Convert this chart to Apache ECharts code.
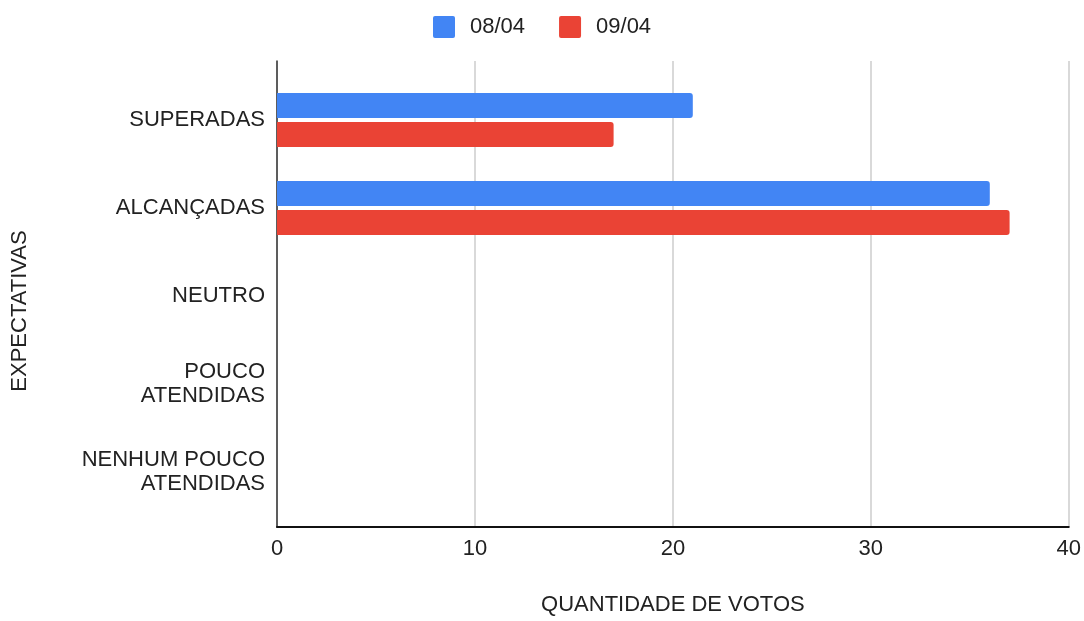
<!DOCTYPE html>
<html>
<head>
<meta charset="utf-8">
<script src="https://cdn.jsdelivr.net/npm/echarts@6/dist/echarts.min.js"></script>
<style>
  html, body { margin: 0; padding: 0; background: #fff; }
</style>
</head>
<body>
<div id="chart" style="width: 1084px; height: 621px"></div>
<script>
var categories = ["SUPERADAS", "ALCANÇADAS", "NEUTRO", "POUCO\nATENDIDAS", "NENHUM POUCO\nATENDIDAS"];
var seriesNames = ["08/04", "09/04"];
var votes0804 = [21, 36, 0, 0, 0];
var votes0904 = [17, 37, 0, 0, 0];
var xTicks = [0, 10, 20, 30, 40];

var font = "Liberation Sans, Arial, sans-serif";
var chart = echarts.init(document.getElementById("chart"));

var option = {
  backgroundColor: "#fff",
  animation: false,
  color: ["#4285f4", "#ea4335"],
  legend: {
    data: seriesNames,
    top: 11,
    left: 428,
    itemWidth: 22,
    itemHeight: 22,
    itemGap: 34,
    icon: "path://M2,0 H20 A2,2 0 0 1 22,2 V20 A2,2 0 0 1 20,22 H2 A2,2 0 0 1 0,20 V2 A2,2 0 0 1 2,0 Z",
    textStyle: { fontFamily: font, fontSize: 22, color: "#222", padding: [0, 0, 0, 10] }
  },
  grid: [
    // frame: gridlines + axis lines
    { left: 277, right: 15, top: 61, bottom: 89 },
    // bars
    { left: 277, right: 15, top: 76, bottom: 105 }
  ],
  xAxis: [
    {
      gridIndex: 0,
      type: "value",
      min: xTicks[0],
      max: xTicks[xTicks.length - 1],
      interval: 10,
      name: "QUANTIDADE DE VOTOS",
      nameLocation: "middle",
      nameGap: 67,
      nameTextStyle: { fontFamily: font, fontSize: 22, color: "#222" },
      axisLine: { show: true, lineStyle: { color: "#111", width: 2 } },
      axisTick: { show: false },
      axisLabel: { fontFamily: font, fontSize: 22, color: "#222", margin: 11 },
      splitLine: { show: true, lineStyle: { color: "#ccc", width: 1.5 } }
    },
    {
      gridIndex: 1,
      type: "value",
      min: xTicks[0],
      max: xTicks[xTicks.length - 1],
      interval: 10,
      show: false
    }
  ],
  yAxis: [
    {
      gridIndex: 0,
      type: "value",
      name: "EXPECTATIVAS",
      nameLocation: "middle",
      nameGap: 246,
      nameRotate: 90,
      nameTextStyle: { fontFamily: font, fontSize: 22, color: "#222", padding: [0, 34, 0, 0] },
      axisLine: { show: true, lineStyle: { color: "#333", width: 1.5 } },
      axisTick: { show: false },
      axisLabel: { show: false },
      splitLine: { show: false }
    },
    {
      gridIndex: 1,
      type: "category",
      inverse: true,
      data: categories,
      axisLine: { show: false },
      axisTick: { show: false },
      axisLabel: {
        fontFamily: font,
        fontSize: 22,
        color: "#222",
        margin: 12,
        lineHeight: 24,
        align: "right"
      }
    }
  ],
  series: [
    {
      name: seriesNames[0],
      type: "bar",
      xAxisIndex: 1,
      yAxisIndex: 1,
      data: votes0804,
      barWidth: 25,
      barGap: "16%",
      itemStyle: { borderRadius: [0, 3, 3, 0] }
    },
    {
      name: seriesNames[1],
      type: "bar",
      xAxisIndex: 1,
      yAxisIndex: 1,
      data: votes0904,
      barWidth: 25,
      barGap: "16%",
      itemStyle: { borderRadius: [0, 3, 3, 0] }
    }
  ]
};

chart.setOption(option);
</script>
</body>
</html>
